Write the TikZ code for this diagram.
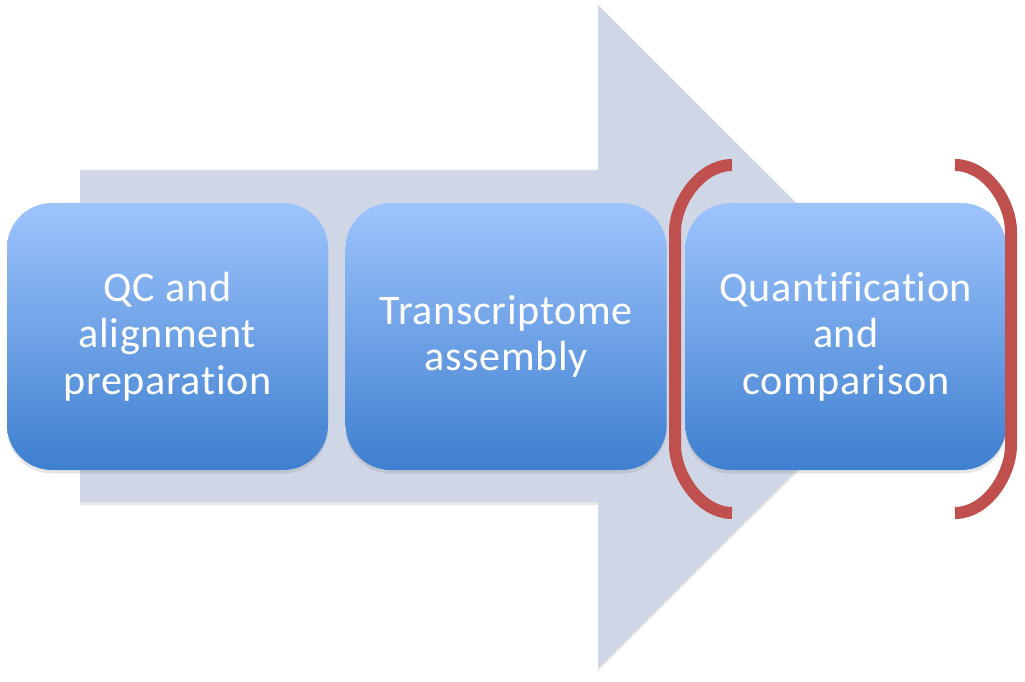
\documentclass[tikz,border=0pt]{standalone}
\usepackage{fontspec}
\setmainfont{Carlito}[Ligatures=NoCommon, LetterSpace=1.5]
\usepackage{xcolor}
\usetikzlibrary{positioning,shadows}

\definecolor{arrowgray}{RGB}{207,214,230}
\definecolor{boxtop}{RGB}{158,196,253}
\definecolor{boxbottom}{RGB}{62,127,207}
\definecolor{bracketred}{RGB}{192,80,77}

\begin{document}
\begin{tikzpicture}[
    stepbox/.style={rectangle, rounded corners=0.9cm, top color=boxtop, bottom color=boxbottom, text=white, minimum width=6.42cm, minimum height=5.34cm, align=center, inner sep=0pt, font=\fontsize{24}{26.5}\selectfont, drop shadow={opacity=0.2, shadow xshift=0pt, shadow yshift=-0.07cm}},
    bigarrow/.style={fill=arrowgray, drop shadow={opacity=0.2, shadow xshift=0pt, shadow yshift=-0.06cm}},
    bracket/.style={draw=bracketred, line width=0.24cm}
]
    \useasboundingbox (0,0) rectangle (20.5,13.62);
    % Background arrow
    \path[bigarrow] (1.6,3.58) -- (11.96,3.58) -- (11.96,0.26) -- (18.6,6.89) -- (11.96,13.52) -- (11.96,10.22) -- (1.6,10.22) -- cycle;
    % Steps
    \node[stepbox] (qc) at (3.35,6.89) {QC and\\alignment\\preparation};
    \node[stepbox, right=0.34cm of qc] (assembly) {Transcriptome\\assembly};
    \node[stepbox, right=0.36cm of assembly] (quant) {Quantification\\and\\comparison};
    % Brackets
    \draw[bracket] (14.64,10.32) .. controls (14.01,10.32) and (13.5,9.58) .. (13.5,8.98) -- (13.5,4.72) .. controls (13.5,4.12) and (14.01,3.36) .. (14.64,3.36);
    \draw[bracket] (19.1,10.32) .. controls (19.73,10.32) and (20.22,9.58) .. (20.22,8.98) -- (20.22,4.72) .. controls (20.22,4.12) and (19.73,3.36) .. (19.1,3.36);
\end{tikzpicture}
\end{document}
